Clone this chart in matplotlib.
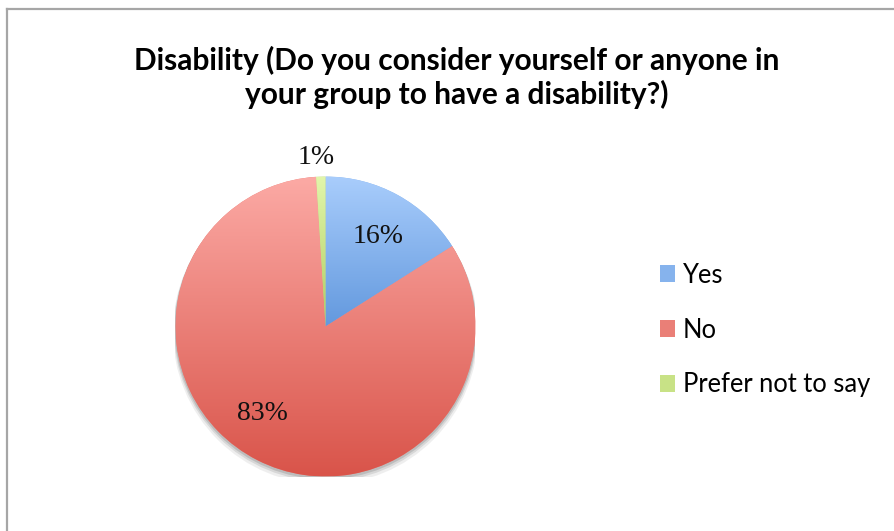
import matplotlib
matplotlib.use("Agg")
import matplotlib.pyplot as plt
import numpy as np
from matplotlib.colors import LinearSegmentedColormap
from matplotlib.lines import Line2D
from matplotlib.patches import Circle, Patch

title = "Disability (Do you consider yourself or anyone in\nyour group to have a disability?)"
categories = ["Yes", "No", "Prefer not to say"]
values = [16, 83, 1]
labels = ["16%", "83%", "1%"]

# light (top) / dark (bottom) gradient ends, Excel style
light_colors = ["#a9cdfc", "#fcaaa5", "#e2f6ab"]
dark_colors = ["#6399de", "#d9544a", "#afcd62"]
mid_colors = ["#86b3ed", "#ea7f77", "#c8e286"]

W, H = 895, 531
fig = plt.figure(figsize=(W / 100, H / 100), dpi=100)
fig.patch.set_facecolor("white")

# pie centre (325.5, 326.5) px, radius 150 px
cx, cy, r = 325.5, 326.5, 150
ax = fig.add_axes([(cx - r) / W, (H - cy - r) / H, 2 * r / W, 2 * r / H])
ax.set_xlim(-1, 1)
ax.set_ylim(-1, 1)
ax.set_aspect("equal")
ax.axis("off")

# soft shadow under the pie
for k, a in [(0.035, 0.10), (0.022, 0.16), (0.012, 0.22)]:
    ax.add_patch(Circle((0, -k), 1.0 + k / 2, color="#606060", alpha=a, lw=0, zorder=0))

wedges, _ = ax.pie(values, colors=mid_colors, startangle=90, counterclock=False,
                   radius=1, wedgeprops=dict(linewidth=0))

grad = np.linspace(0, 1, 256).reshape(-1, 1)
for w, lc, dc in zip(wedges, light_colors, dark_colors):
    w.set_zorder(1)
    bb = w.get_path().get_extents()
    cmap = LinearSegmentedColormap.from_list("g", [lc, dc])
    im = ax.imshow(grad, cmap=cmap, aspect="auto", origin="upper",
                   extent=(bb.x0, bb.x1, bb.y0, bb.y1), zorder=2,
                   interpolation="bilinear")
    im.set_clip_path(w)
ax.set_xlim(-1, 1)
ax.set_ylim(-1, 1)

# percentage labels
label_pos = [(0.35, 0.60), (-0.42, -0.58), (-0.06, 1.13)]
for (x, y), t in zip(label_pos, labels):
    ax.text(x, y, t, ha="center", va="center", fontsize=20,
            family="Liberation Serif", color="#111111", zorder=5)

fig.text(456.5 / W, 1 - 77 / H, title, ha="center", va="center", fontsize=21.5,
         fontweight="bold", family="Lato", linespacing=1.2, color="black")

handles = [Patch(facecolor=c, edgecolor="none") for c in mid_colors]
fig.legend(handles, categories, loc="center left",
           bbox_to_anchor=(637 / W, 1 - 330 / H), frameon=False,
           prop=dict(family="Lato", size=18.4), handlelength=0.6,
           handleheight=0.6, handletextpad=0.3, labelspacing=1.17)

# chart border (left and top only visible)
fig.add_artist(Line2D([7 / W, 7 / W], [0, 1 - 9 / H], transform=fig.transFigure,
                      color="#a6a6a6", lw=1.6))
fig.add_artist(Line2D([7 / W, 1], [1 - 9 / H, 1 - 9 / H], transform=fig.transFigure,
                      color="#a6a6a6", lw=1.6))

fig.savefig("out.png", dpi=100)
